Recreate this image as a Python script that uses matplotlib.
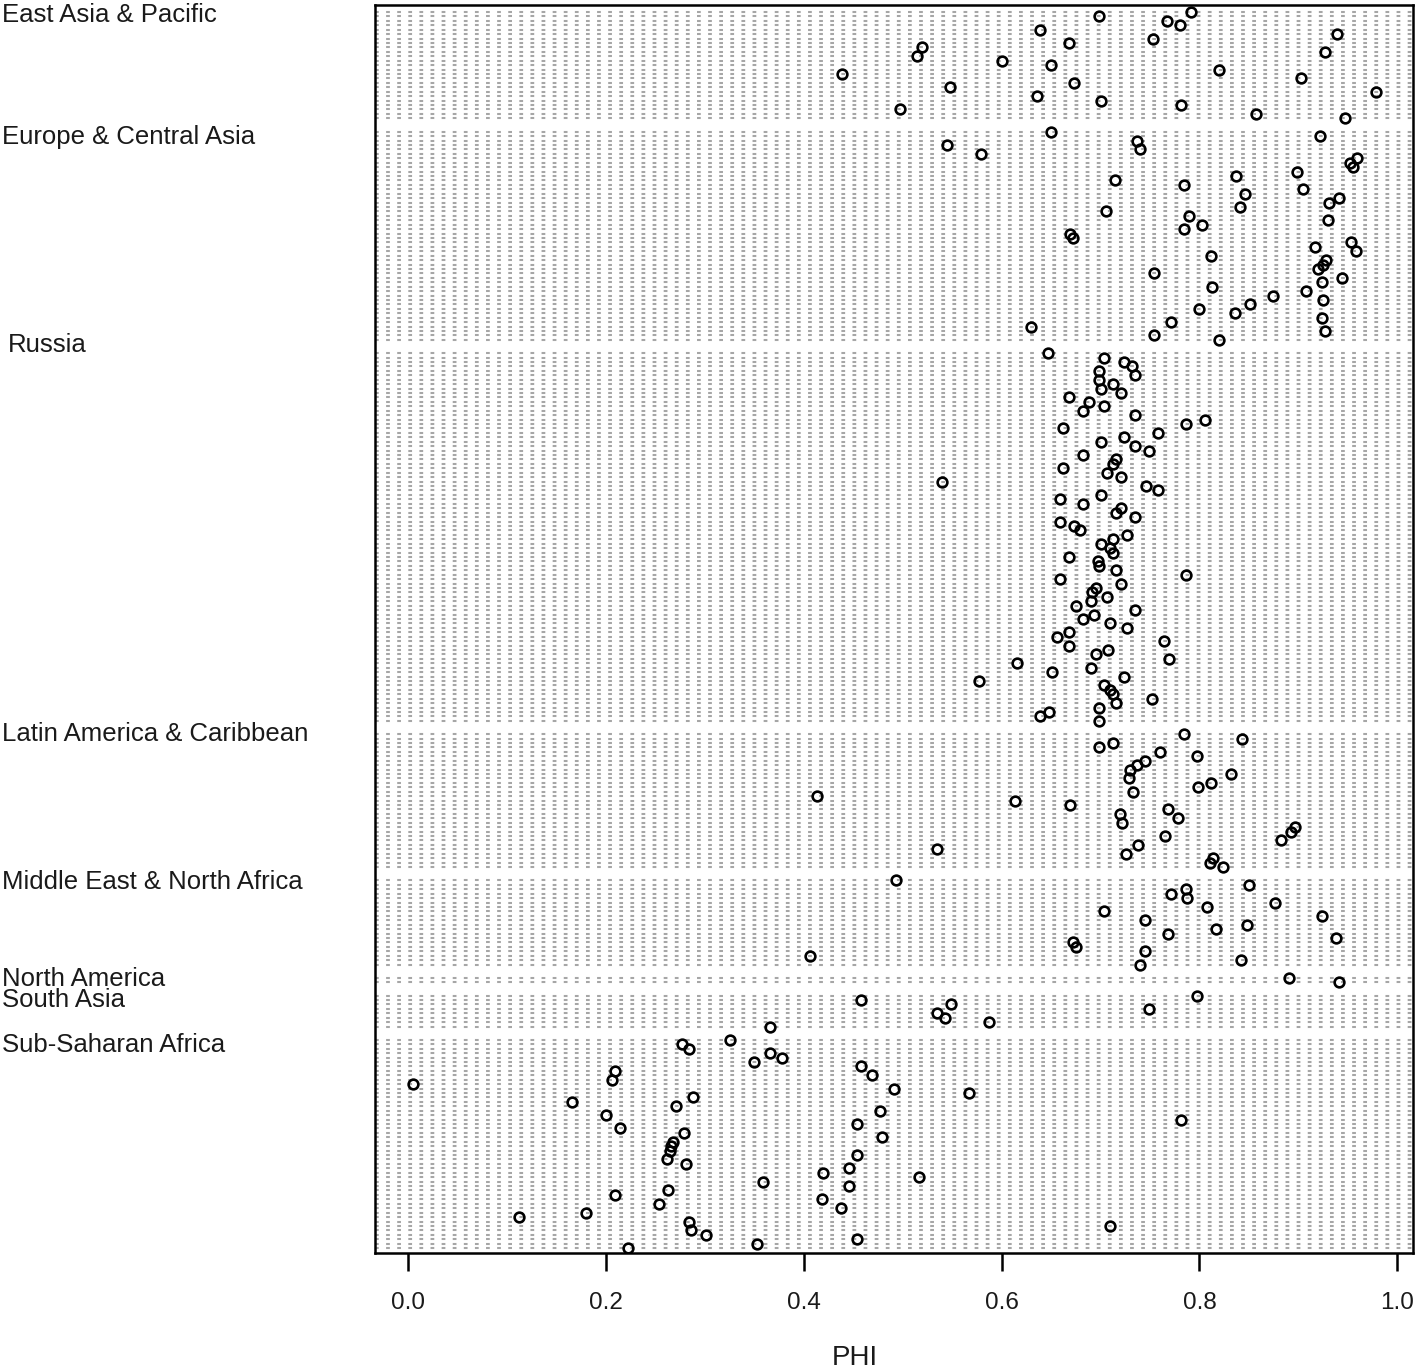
import matplotlib
matplotlib.use('Agg')
import matplotlib.pyplot as plt
import matplotlib.transforms as mtransforms

plt.rcParams['font.family'] = ['Liberation Sans', 'DejaVu Sans']

# ─── data: PHI per country, top to bottom within each region ────────────────
groups = [
    'East Asia & Pacific', 'Europe & Central Asia', 'Russia',
    'Latin America & Caribbean', 'Middle East & North Africa',
    'North America', 'South Asia', 'Sub-Saharan Africa',
]

east_asia = [0.792, 0.699, 0.767, 0.780, 0.639, 0.939, 0.753, 0.668, 0.520,
             0.927, 0.514, 0.600, 0.650, 0.820, 0.439, 0.903, 0.673, 0.548,
             0.979, 0.636, 0.701, 0.781, 0.497, 0.857, 0.947]

europe = [0.650, 0.922, 0.737, 0.545, 0.740, 0.579, 0.959, 0.952, 0.955,
          0.899, 0.837, 0.715, 0.784, 0.905, 0.846, 0.941, 0.931, 0.841,
          0.706, 0.789, 0.930, 0.803, 0.784, 0.669, 0.672, 0.953, 0.917,
          0.958, 0.812, 0.928, 0.925, 0.920, 0.754, 0.944, 0.924, 0.813,
          0.908, 0.874, 0.925, 0.851, 0.800, 0.836, 0.924, 0.771, 0.630,
          0.927, 0.754, 0.820]

russia = [0.647, 0.704, 0.724, 0.732, 0.699, 0.735, 0.699, 0.713, 0.701,
          0.721, 0.668, 0.688, 0.704, 0.682, 0.735, 0.806, 0.786, 0.662,
          0.758, 0.724, 0.701, 0.735, 0.749, 0.682, 0.716, 0.713, 0.662,
          0.707, 0.721, 0.540, 0.746, 0.758, 0.701, 0.659, 0.682, 0.721,
          0.716, 0.735, 0.659, 0.673, 0.679, 0.727, 0.713, 0.701, 0.710,
          0.713, 0.668, 0.698, 0.699, 0.716, 0.786, 0.659, 0.721, 0.695,
          0.691, 0.707, 0.690, 0.675, 0.735, 0.693, 0.682, 0.710, 0.727,
          0.668, 0.656, 0.764, 0.668, 0.708, 0.695, 0.769, 0.616, 0.690,
          0.651, 0.724, 0.577, 0.704, 0.710, 0.713, 0.752, 0.716, 0.699,
          0.648, 0.639, 0.699]

latin_america = [0.784, 0.843, 0.713, 0.699, 0.760, 0.798, 0.745, 0.737,
                 0.730, 0.832, 0.729, 0.812, 0.799, 0.733, 0.413, 0.614,
                 0.669, 0.768, 0.720, 0.778, 0.722, 0.897, 0.893, 0.765,
                 0.883, 0.738, 0.535, 0.726, 0.814, 0.811, 0.824]

middle_east = [0.493, 0.850, 0.786, 0.771, 0.787, 0.876, 0.808, 0.704, 0.924,
               0.745, 0.848, 0.817, 0.768, 0.938, 0.672, 0.675, 0.745, 0.406,
               0.842, 0.740]

north_america = [0.891, 0.941]

south_asia = [0.798, 0.458, 0.549, 0.749, 0.535, 0.543, 0.587, 0.366]

sub_saharan = [0.325, 0.277, 0.284, 0.366, 0.378, 0.350, 0.458, 0.209, 0.469,
               0.206, 0.005, 0.491, 0.567, 0.288, 0.166, 0.271, 0.477, 0.200,
               0.781, 0.454, 0.214, 0.279, 0.479, 0.268, 0.266, 0.265, 0.454,
               0.262, 0.281, 0.446, 0.419, 0.517, 0.359, 0.446, 0.263, 0.209,
               0.418, 0.254, 0.438, 0.180, 0.112, 0.284, 0.710, 0.286, 0.301,
               0.454, 0.353, 0.222]

values = [east_asia, europe, russia, latin_america, middle_east,
          north_america, south_asia, sub_saharan]

xticks = [0.0, 0.2, 0.4, 0.6, 0.8, 1.0]

# ─── layout (R dotchart style: 2 empty rows between groups) ─────────────────
fig = plt.figure(figsize=(14.18, 13.71), dpi=100)
ax = fig.add_axes([0.2645, 0.0861, 0.732, 0.9103])
trans = mtransforms.blended_transform_factory(ax.transAxes, ax.transData)

label_off = [0.6, 1.3, -1.8, -0.1, 0.4, 0.2, 1.1, 1.2]
pos = 0
for name, vals, off in zip(groups, values, label_off):
    ys = [pos + i for i in range(len(vals))]
    for y in ys:
        ax.axhline(y, color='#a6a6a6', lw=1.5, linestyle=(0, (1.8, 3.53)),
                   zorder=1)
    ax.plot(vals, ys, 'o', mfc='none', mec='black', ms=7.0, mew=1.9,
            zorder=3)
    lx = -0.3535 if name == 'Russia' else -0.3593
    ax.text(lx, pos + off, name, transform=trans, ha='left', va='center',
            fontsize=18.5, color='#1a1a1a')
    pos += len(vals) + 2

last_row = pos - 3
ax.set_ylim(last_row + 1.1, -1.6)
ax.set_xlim(-0.0334, 1.016)

ax.set_yticks([])
ax.set_xticks(xticks)
ax.set_xticklabels([f'{t:.1f}' for t in xticks], fontsize=17.5, color='#1a1a1a')
ax.tick_params(axis='x', length=13, width=1.8, pad=15, color='black')
for spine in ax.spines.values():
    spine.set_linewidth(1.8)
    spine.set_color('black')

ax.text(0.462, -0.084, 'PHI', transform=ax.transAxes, ha='center',
        va='center', fontsize=20, color='#1a1a1a')

plt.savefig('out.png', dpi=100)
plt.close()
